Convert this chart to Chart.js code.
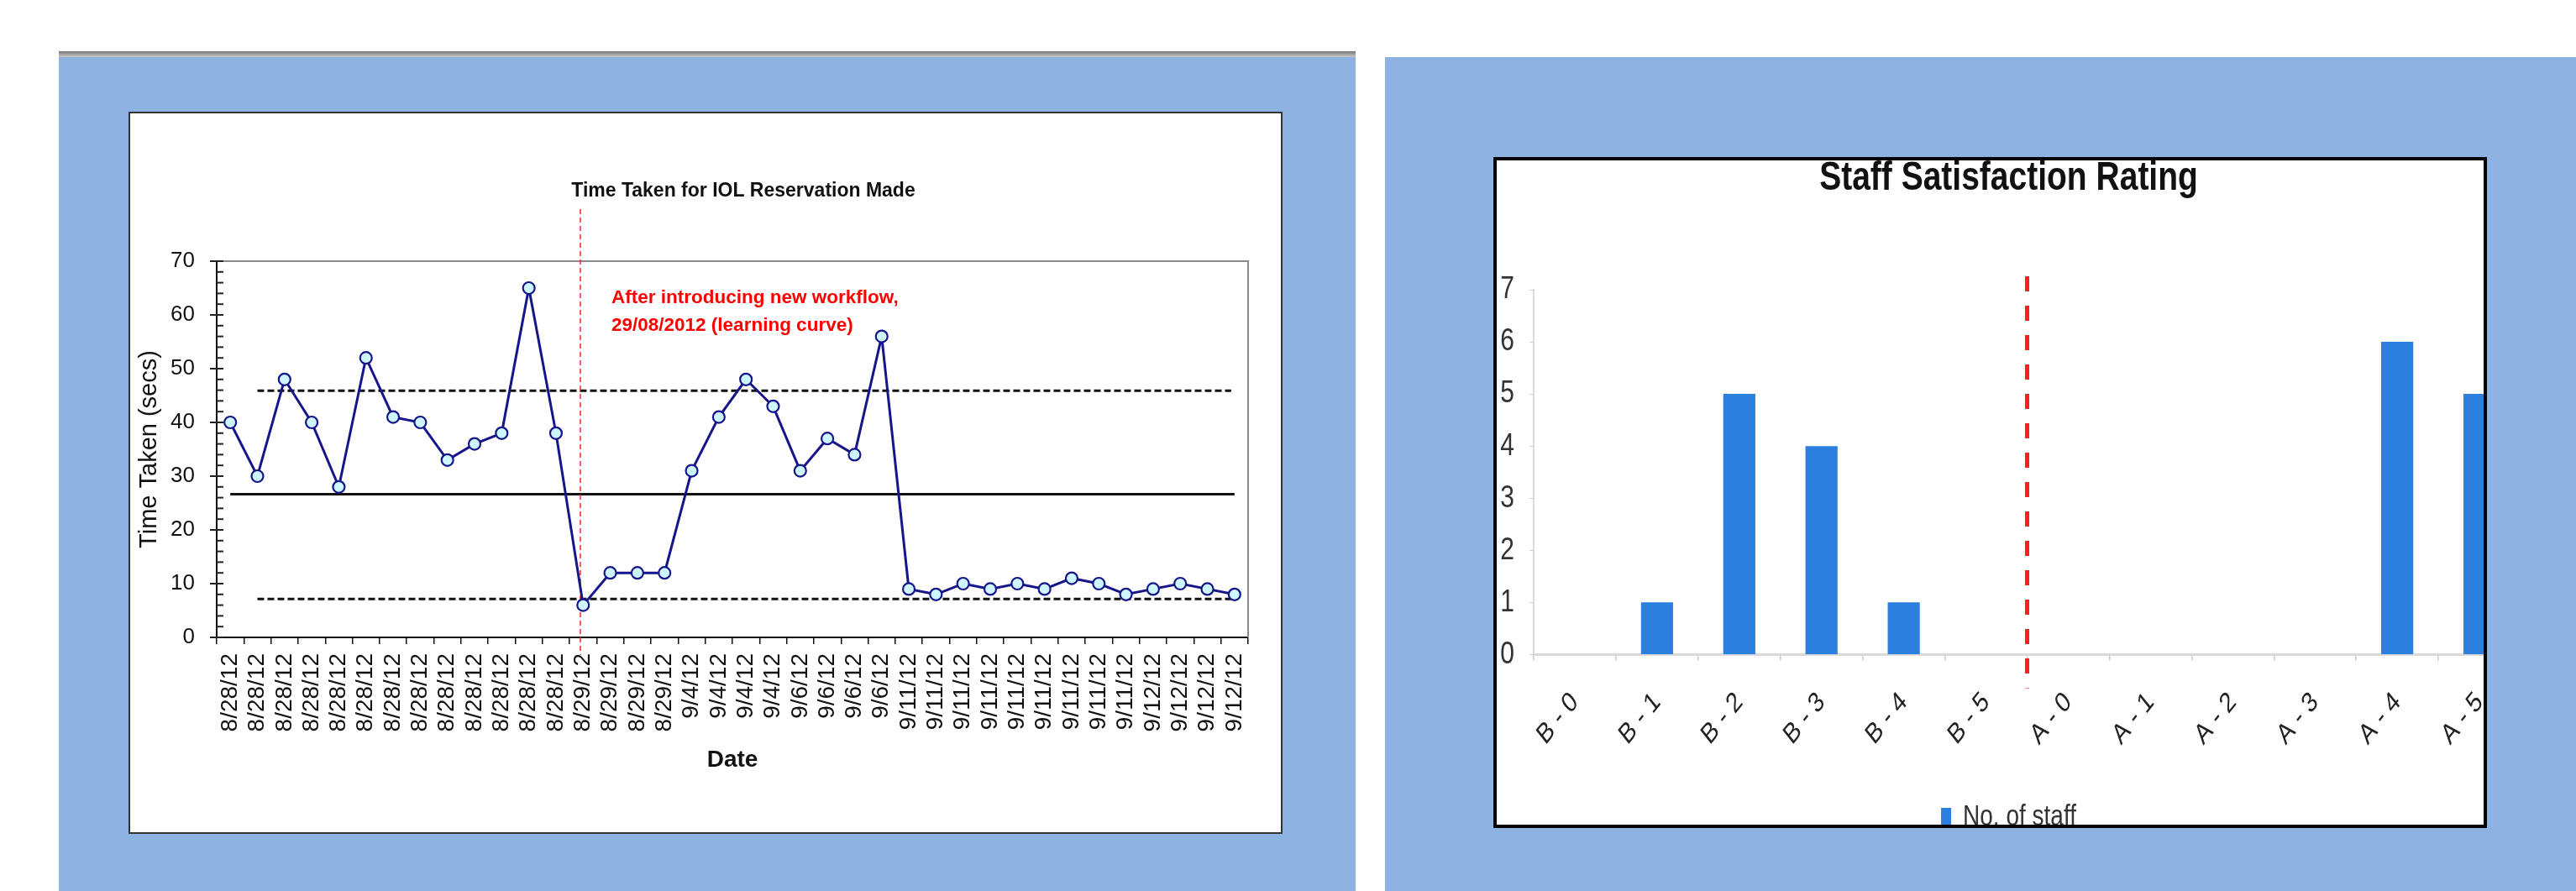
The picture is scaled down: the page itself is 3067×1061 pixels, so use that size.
<!DOCTYPE html>
<html>
<head>
<meta charset="utf-8">
<title>IOL reservation time and staff satisfaction</title>
<script src="https://cdn.jsdelivr.net/npm/chart.js@4.4.1/dist/chart.umd.min.js"></script>
<style>
  html, body { margin: 0; padding: 0; background: #fff; }
  body { width: 3067px; height: 1061px; position: relative; overflow: hidden; }
  .panel { position: absolute; background: #8db3e2; }
  #panelL { left: 70px; top: 61px; width: 1544px; height: 1000px; }
  #panelL .rim { position: absolute; left: 0; top: 0; right: 0; height: 7px; background: linear-gradient(#767676, #c8c8c8); }
  #panelR { left: 1649px; top: 68px; width: 1418px; height: 993px; }
  #boxL { position: absolute; left: 153px; top: 133px; width: 1370px; height: 856px; border: 2px solid #333; background: #fff; }
  #boxR { position: absolute; left: 1778px; top: 187px; width: 1175px; height: 791px; border: 4px solid #000; background: #fff; overflow: hidden; }
  canvas { display: block; position: absolute; left: 0; top: 0; }
</style>
</head>
<body>
<div class="panel" id="panelL"><div class="rim"></div></div>
<div class="panel" id="panelR"></div>
<div id="boxL"><canvas id="timeChart" width="1370" height="856"></canvas></div>
<div id="boxR"><canvas id="staffChart" width="1258" height="806"></canvas></div>

<script>
// ---- Time taken for each IOL reservation ----
const dates = [
  '8/28/12', '8/28/12', '8/28/12', '8/28/12', '8/28/12', '8/28/12', '8/28/12',
  '8/28/12', '8/28/12', '8/28/12', '8/28/12', '8/28/12', '8/28/12',
  '8/29/12', '8/29/12', '8/29/12', '8/29/12',
  '9/4/12', '9/4/12', '9/4/12', '9/4/12',
  '9/6/12', '9/6/12', '9/6/12', '9/6/12',
  '9/11/12', '9/11/12', '9/11/12', '9/11/12', '9/11/12', '9/11/12', '9/11/12', '9/11/12', '9/11/12',
  '9/12/12', '9/12/12', '9/12/12', '9/12/12'
];
const secondsTaken = [
  40, 30, 48, 40, 28, 52, 41, 40, 33, 36, 38, 65, 38,
  6, 12, 12, 12,
  31, 41, 48, 43,
  31, 37, 34, 56,
  9, 8, 10, 9, 10, 9, 11, 10, 8,
  9, 10, 9, 8
];
// control chart lines (secs)
const meanLine = 26.65;
const upperLimit = 45.9;
const lowerLimit = 7.15;
// index where the new workflow starts (first 8/29/12 reading)
const workflowStart = 12.9;
const chartTitle = 'Time Taken for IOL Reservation Made';
const workflowNote = ['After introducing new workflow,', '29/08/2012 (learning curve)'];

// ---- Staff satisfaction, before (B) and after (A) ----
const ratingLabels = ['B - 0', 'B - 1', 'B - 2', 'B - 3', 'B - 4', 'B - 5',
                      'A - 0', 'A - 1', 'A - 2', 'A - 3', 'A - 4', 'A - 5'];
const staffCounts = [0, 1, 5, 4, 1, 0, 0, 0, 0, 0, 6, 5];
const beforeAfterSplit = 5.5;

Chart.defaults.font.family = '"Liberation Sans", Arial, Helvetica, sans-serif';
Chart.defaults.color = '#111';
Chart.defaults.animation = false;

function hLine(ctx, x0, x1, y, width, dash) {
  ctx.save();
  ctx.strokeStyle = '#111';
  ctx.lineWidth = width;
  ctx.setLineDash(dash);
  ctx.beginPath();
  ctx.moveTo(x0, y);
  ctx.lineTo(x1, y);
  ctx.stroke();
  ctx.restore();
}

// frame, control limits, axis tick marks, divider and notes for the time chart
const timeChartDecor = {
  id: 'timeChartDecor',
  beforeDatasetsDraw(chart) {
    const { ctx, chartArea: a, scales: { x, y } } = chart;
    const last = dates.length - 1;

    ctx.save();
    ctx.strokeStyle = '#8a8a8a';
    ctx.lineWidth = 2;
    ctx.beginPath();
    ctx.moveTo(a.left, a.top);
    ctx.lineTo(a.right, a.top);
    ctx.lineTo(a.right, a.bottom);
    ctx.stroke();

    // y axis tick marks: major every 10, minor every 2
    ctx.strokeStyle = '#222';
    ctx.lineWidth = 2;
    for (let v = 0; v <= 70; v += 2) {
      const py = y.getPixelForValue(v);
      const major = v % 10 === 0;
      ctx.beginPath();
      ctx.moveTo(a.left - (major ? 8 : 0), py);
      ctx.lineTo(a.left + 8, py);
      ctx.stroke();
    }
    ctx.restore();

    hLine(ctx, x.getPixelForValue(0), x.getPixelForValue(last), y.getPixelForValue(meanLine), 3, []);
    hLine(ctx, x.getPixelForValue(1), x.getPixelForValue(last) - 4, y.getPixelForValue(upperLimit), 3, [8, 4]);
    hLine(ctx, x.getPixelForValue(1), x.getPixelForValue(last) - 4, y.getPixelForValue(lowerLimit), 3, [8, 4]);

    const px = x.getPixelForValue(workflowStart);
    ctx.save();
    ctx.strokeStyle = '#ff2a2a';
    ctx.lineWidth = 1.5;
    ctx.setLineDash([6, 4]);
    ctx.beginPath();
    ctx.moveTo(px, a.top - 62);
    ctx.lineTo(px, a.bottom + 21);
    ctx.stroke();
    ctx.restore();
  },
  afterDraw(chart) {
    const { ctx } = chart;
    ctx.save();
    ctx.textBaseline = 'middle';
    ctx.textAlign = 'center';
    ctx.fillStyle = '#111';
    ctx.font = 'bold 23px "Liberation Sans", Arial, sans-serif';
    ctx.fillText(chartTitle, 730, 93);

    ctx.textAlign = 'left';
    ctx.fillStyle = '#ff0000';
    ctx.font = 'bold 22.5px "Liberation Sans", Arial, sans-serif';
    ctx.fillText(workflowNote[0], 573, 220);
    ctx.fillText(workflowNote[1], 573, 253);
    ctx.restore();
  }
};

new Chart(document.getElementById('timeChart'), {
  type: 'line',
  data: {
    labels: dates,
    datasets: [{
      label: 'Time Taken (secs)',
      data: secondsTaken,
      borderColor: '#16168a',
      borderWidth: 3,
      pointRadius: 7,
      pointBackgroundColor: '#cdf6ff',
      pointBorderColor: '#16168a',
      pointBorderWidth: 2.2,
      tension: 0,
      clip: false
    }]
  },
  options: {
    responsive: false,
    layout: { padding: { top: 176, right: 39, left: 0, bottom: 0 } },
    plugins: { legend: { display: false }, tooltip: { enabled: false } },
    scales: {
      x: {
        type: 'category',
        offset: true,
        grid: { offset: true, drawOnChartArea: false, tickLength: 8, color: '#111', lineWidth: 1.5 },
        border: { color: '#111', width: 2 },
        ticks: { autoSkip: false, minRotation: 90, maxRotation: 90, padding: 11, font: { size: 28 }, color: '#111' },
        title: { display: true, text: 'Date', font: { size: 28, weight: 'bold' }, color: '#111', padding: { top: 0, bottom: 69 } },
        afterFit(s) { s.height = 232; }
      },
      y: {
        min: 0,
        max: 70,
        grid: { drawOnChartArea: false, drawTicks: false },
        border: { color: '#111', width: 2 },
        ticks: { stepSize: 10, padding: 26, font: { size: 26 }, color: '#111' },
        title: { display: true, text: 'Time Taken (secs)', font: { size: 29 }, color: '#111', padding: { top: 6, bottom: 0 } },
        afterFit(s) { s.width = 103; }
      }
    }
  },
  plugins: [timeChartDecor]
});

// tall, narrow lettering used throughout the satisfaction chart
const verticalStretch = {
  id: 'verticalStretch',
  beforeInit(chart, args, opts) {
    const ctx = chart.ctx;
    const sy = opts.factor || 1;
    const baseFill = ctx.fillText;
    ctx.fillText = function (text, x, y, maxWidth) {
      const m = this.getTransform();
      const px = m.a * x + m.c * y + m.e;
      const py = m.b * x + m.d * y + m.f;
      this.save();
      this.setTransform(new DOMMatrix().translate(px, py).scale(1, sy).translate(-px, -py).multiply(m));
      if (maxWidth === undefined) baseFill.call(this, text, x, y);
      else baseFill.call(this, text, x, y, maxWidth);
      this.restore();
    };
  }
};

const splitLine = {
  id: 'splitLine',
  afterDatasetsDraw(chart) {
    const { ctx, chartArea: a, scales: { x } } = chart;
    const px = x.getPixelForValue(beforeAfterSplit);
    ctx.save();
    ctx.strokeStyle = '#ff1f1f';
    ctx.lineWidth = 5;
    ctx.setLineDash([18, 17]);
    ctx.beginPath();
    ctx.moveTo(px, a.top - 16);
    ctx.lineTo(px, a.bottom + 40);
    ctx.stroke();
    ctx.restore();
  }
};

new Chart(document.getElementById('staffChart'), {
  type: 'bar',
  data: {
    labels: ratingLabels,
    datasets: [{
      label: 'No. of staff',
      data: staffCounts,
      backgroundColor: '#2a7fdf',
      borderWidth: 0,
      barPercentage: 0.39,
      categoryPercentage: 1
    }]
  },
  options: {
    responsive: false,
    layout: { padding: { top: 0, right: 39, left: 0, bottom: 0 } },
    plugins: {
      verticalStretch: { factor: 1.25 },
      title: {
        display: true,
        text: 'Staff Satisfaction Rating',
        font: { size: 39, weight: 'bold', lineHeight: 1 },
        color: '#111',
        padding: { top: 2, bottom: 113 }
      },
      legend: {
        display: true,
        position: 'bottom',
        labels: { boxWidth: 12, boxHeight: 22, padding: 10, font: { size: 28 }, color: '#333' }
      },
      tooltip: { enabled: false }
    },
    scales: {
      x: {
        grid: { offset: true, drawOnChartArea: false, tickLength: 7, color: '#c8c8c8', lineWidth: 1.5 },
        border: { color: '#d9d9d9', width: 3 },
        ticks: { autoSkip: false, minRotation: 45, maxRotation: 45, padding: 33, font: { size: 27 }, color: '#222' },
        afterFit(s) { s.height = 169.6; }
      },
      y: {
        min: 0,
        max: 7,
        grid: { drawOnChartArea: false, tickLength: 5, color: '#d0d0d0' },
        border: { color: '#d9d9d9', width: 2 },
        ticks: { stepSize: 1, padding: 18, font: { size: 30 }, color: '#333' },
        afterFit(s) { s.width = 44; }
      }
    }
  },
  plugins: [verticalStretch, splitLine]
});
</script>
</body>
</html>
